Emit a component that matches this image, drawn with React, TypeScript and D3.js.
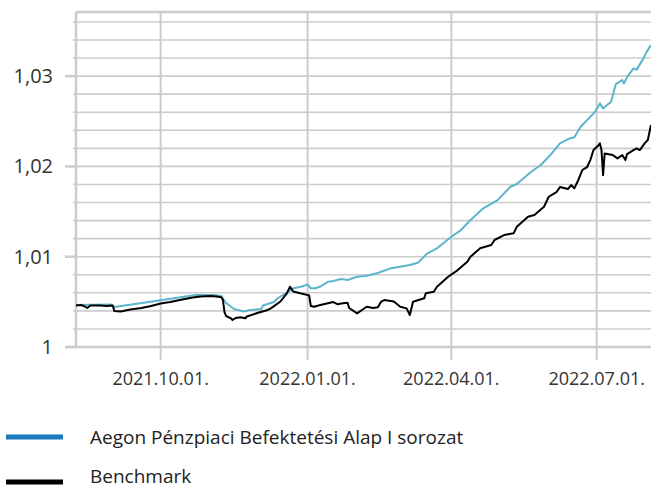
import React from 'react';
import * as d3 from 'd3';

const fund: [string, number][] = [
  ['2021-08-09', 1.00465], ['2021-08-31', 1.00471], ['2021-09-02', 1.00443], ['2021-10-01', 1.00518],
  ['2021-10-23', 1.00576], ['2021-11-03', 1.00576], ['2021-11-08', 1.00565], ['2021-11-11', 1.00487],
  ['2021-11-16', 1.00421], ['2021-11-22', 1.00393], ['2021-11-26', 1.0041], ['2021-12-03', 1.00421],
  ['2021-12-04', 1.00459], ['2021-12-11', 1.00498], ['2021-12-13', 1.00537], ['2021-12-20', 1.00612],
  ['2021-12-23', 1.0065], ['2021-12-28', 1.00668], ['2022-01-01', 1.00692], ['2022-01-03', 1.0065],
  ['2022-01-06', 1.0065], ['2022-01-09', 1.0067], ['2022-01-14', 1.00723], ['2022-01-17', 1.00731],
  ['2022-01-22', 1.00753], ['2022-01-26', 1.00742], ['2022-02-01', 1.00778], ['2022-02-07', 1.00789],
  ['2022-02-14', 1.00819], ['2022-02-16', 1.00834], ['2022-02-22', 1.00871], ['2022-02-28', 1.00889],
  ['2022-03-06', 1.00908], ['2022-03-11', 1.00933], ['2022-03-17', 1.01037], ['2022-03-23', 1.01093],
  ['2022-04-01', 1.01221], ['2022-04-07', 1.01295], ['2022-04-13', 1.01406], ['2022-04-21', 1.01536],
  ['2022-04-30', 1.01627], ['2022-05-08', 1.01775], ['2022-05-12', 1.01805], ['2022-05-21', 1.01941],
  ['2022-05-27', 1.02015], ['2022-06-02', 1.02126], ['2022-06-08', 1.02255], ['2022-06-14', 1.0231],
  ['2022-06-17', 1.02322], ['2022-06-21', 1.02439], ['2022-06-26', 1.02532], ['2022-06-30', 1.02605],
  ['2022-07-03', 1.02698], ['2022-07-05', 1.02643], ['2022-07-10', 1.02716], ['2022-07-13', 1.02912],
  ['2022-07-17', 1.02956], ['2022-07-18', 1.02919], ['2022-07-20', 1.02989], ['2022-07-24', 1.03085],
  ['2022-07-26', 1.03072], ['2022-07-30', 1.03188], ['2022-08-01', 1.0326], ['2022-08-04', 1.03343],
];

const benchmark: [string, number][] = [
  ['2021-08-09', 1.00459], ['2021-08-12', 1.00465], ['2021-08-14', 1.00454], ['2021-08-16', 1.00432],
  ['2021-08-18', 1.00459], ['2021-08-24', 1.00459], ['2021-08-28', 1.00454], ['2021-09-01', 1.00459],
  ['2021-09-02', 1.00399], ['2021-09-06', 1.00393], ['2021-09-12', 1.00415], ['2021-09-19', 1.00432],
  ['2021-09-25', 1.00454], ['2021-10-01', 1.00482], ['2021-10-07', 1.00498], ['2021-10-13', 1.0052],
  ['2021-10-21', 1.00548], ['2021-10-26', 1.00559], ['2021-11-01', 1.00565], ['2021-11-05', 1.00559],
  ['2021-11-08', 1.0055], ['2021-11-09', 1.0052], ['2021-11-10', 1.00384], ['2021-11-11', 1.00343],
  ['2021-11-14', 1.00318], ['2021-11-15', 1.00299], ['2021-11-17', 1.00321], ['2021-11-20', 1.00329],
  ['2021-11-23', 1.00318], ['2021-11-24', 1.00338], ['2021-11-30', 1.00373], ['2021-12-07', 1.0041],
  ['2021-12-09', 1.00428], ['2021-12-15', 1.00504], ['2021-12-19', 1.00595], ['2021-12-21', 1.00668],
  ['2021-12-23', 1.00614], ['2021-12-28', 1.00592], ['2022-01-01', 1.00576], ['2022-01-02', 1.0057],
  ['2022-01-03', 1.00454], ['2022-01-05', 1.00446], ['2022-01-09', 1.00465], ['2022-01-13', 1.00482],
  ['2022-01-17', 1.00498], ['2022-01-20', 1.00473], ['2022-01-22', 1.00482], ['2022-01-26', 1.0049],
  ['2022-01-27', 1.00432], ['2022-02-01', 1.00373], ['2022-02-04', 1.0041], ['2022-02-07', 1.00446],
  ['2022-02-11', 1.00432], ['2022-02-14', 1.0044], ['2022-02-16', 1.00502], ['2022-02-18', 1.0052],
  ['2022-02-24', 1.00504], ['2022-02-28', 1.00446], ['2022-03-04', 1.00428], ['2022-03-06', 1.00354],
  ['2022-03-08', 1.00502], ['2022-03-15', 1.00539], ['2022-03-16', 1.00595], ['2022-03-21', 1.00612],
  ['2022-03-23', 1.00668], ['2022-03-30', 1.00778], ['2022-04-05', 1.00852], ['2022-04-11', 1.00944],
  ['2022-04-13', 1.01], ['2022-04-19', 1.01093], ['2022-04-26', 1.01129], ['2022-04-28', 1.01185],
  ['2022-05-04', 1.0124], ['2022-05-10', 1.01259], ['2022-05-12', 1.01332], ['2022-05-19', 1.01443],
  ['2022-05-23', 1.01461], ['2022-05-29', 1.01553], ['2022-06-01', 1.01664], ['2022-06-06', 1.01719],
  ['2022-06-08', 1.01771], ['2022-06-13', 1.01749], ['2022-06-15', 1.01794], ['2022-06-17', 1.01757],
  ['2022-06-19', 1.0183], ['2022-06-22', 1.0196], ['2022-06-25', 1.01993], ['2022-06-27', 1.0207],
  ['2022-06-29', 1.02181], ['2022-07-02', 1.02231], ['2022-07-03', 1.02255], ['2022-07-04', 1.02181],
  ['2022-07-05', 1.01904], ['2022-07-06', 1.02144], ['2022-07-11', 1.02126], ['2022-07-14', 1.02089],
  ['2022-07-17', 1.02126], ['2022-07-19', 1.0207], ['2022-07-20', 1.02137], ['2022-07-24', 1.02181],
  ['2022-07-26', 1.022], ['2022-07-28', 1.02181], ['2022-07-31', 1.02255], ['2022-08-02', 1.02292],
  ['2022-08-04', 1.02458],
];

const xTickDates = ['2021-10-01', '2022-01-01', '2022-04-01', '2022-07-01'];
const xTickLabels = ['2021.10.01.', '2022.01.01.', '2022.04.01.', '2022.07.01.'];
const yTicks = [1, 1.01, 1.02, 1.03];
const yTickLabels = ['1', '1,01', '1,02', '1,03'];
const legendNames = ['Aegon Pénzpiaci Befektetési Alap I sorozat', 'Benchmark'];

const parse = d3.timeParse('%Y-%m-%d');
const FONT = "'Open Sans', sans-serif";
const GRID = '#cccccc';

export default function App() {
  const width = 651;
  const height = 489;
  const left = 76;
  const right = 651;
  const top = 12;
  const bottom = 347;

  const x = d3
    .scaleTime()
    .domain([parse('2021-08-09') as Date, parse('2022-08-04') as Date])
    .range([left, right]);
  const y = d3.scaleLinear().domain([1, 1.0371]).range([bottom, top]);

  const line = d3
    .line<[string, number]>()
    .x((d) => x(parse(d[0]) as Date))
    .y((d) => y(d[1]));

  // minor grid every 0.002
  const gridVals = d3.range(1, 1.037, 0.002).slice(1);

  return (
    <svg width={width} height={height} style={{ position: 'absolute', left: 0, top: 0 }}>
      <rect width={width} height={height} fill="#fff" />
      {gridVals.map((v, i) => (
        <g key={'g' + i}>
          <line x1={left} x2={right} y1={y(v)} y2={y(v)} stroke={GRID} strokeWidth={1.6} />
          <line x1={left - 3} x2={left} y1={y(v)} y2={y(v)} stroke={GRID} strokeWidth={1.6} />
        </g>
      ))}
      {xTickDates.map((d, i) => (
        <line
          key={'v' + i}
          x1={x(parse(d) as Date)}
          x2={x(parse(d) as Date)}
          y1={top}
          y2={bottom + 13}
          stroke={GRID}
          strokeWidth={2}
        />
      ))}
      {/* frame */}
      <line x1={left} x2={right} y1={top} y2={top} stroke={GRID} strokeWidth={2.5} />
      <line x1={left} x2={left} y1={top} y2={bottom} stroke={GRID} strokeWidth={2.5} />
      <line x1={left - 11} x2={right} y1={bottom} y2={bottom} stroke={GRID} strokeWidth={2.5} />
      {yTicks.map((v, i) => (
        <g key={'y' + i}>
          <line x1={left - 11} x2={left} y1={y(v)} y2={y(v)} stroke={GRID} strokeWidth={2.5} />
          <text
            x={53}
            y={y(v)}
            dy="0.35em"
            textAnchor="end"
            fontFamily={FONT}
            fontSize={20}
            fill="#333"
          >
            {yTickLabels[i]}
          </text>
        </g>
      ))}
      {xTickDates.map((d, i) => (
        <text
          key={'xl' + i}
          x={x(parse(d) as Date)}
          y={385}
          textAnchor="middle"
          fontFamily={FONT}
          fontSize={18}
          fill="#333"
        >
          {xTickLabels[i]}
        </text>
      ))}
      <path d={line(fund) || ''} fill="none" stroke="#5cb5cb" strokeWidth={2} strokeLinejoin="round" />
      <path d={line(benchmark) || ''} fill="none" stroke="#000" strokeWidth={2} strokeLinejoin="round" />

      {/* legend */}
      {legendNames.map((name, i) => (
        <g key={'lg' + i} transform={`translate(0,${437 + i * 45})`}>
          <line x1={6} x2={63} y1={0} y2={0} stroke={i === 0 ? '#1a78bd' : '#000'} strokeWidth={5} />
          <text x={90} y={i === 0 ? 0 : -6} dy="0.35em" fontFamily={FONT} fontSize={19} fill="#222">
            {name}
          </text>
        </g>
      ))}
    </svg>
  );
}
